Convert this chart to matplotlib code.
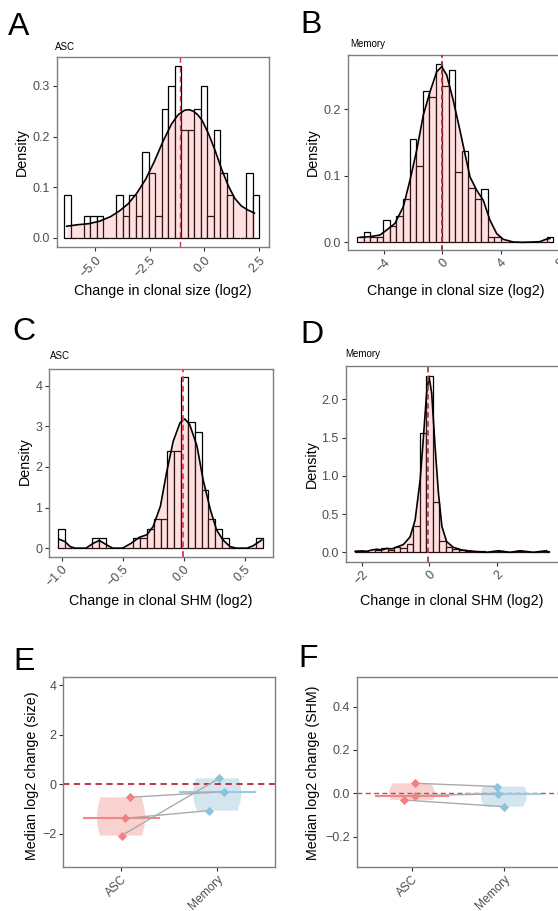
import numpy as np
import matplotlib
matplotlib.use('Agg')
import matplotlib.pyplot as plt

plt.rcParams['font.family'] = ['Liberation Sans', 'DejaVu Sans']

# ------------------------------------------------------------------ data
# Panel A : ASC, change in clonal size
A_bin_start = -6.42
A_bin_width = 0.2983
A_hist = [0.085, 0.0, 0.0, 0.043, 0.043, 0.043, 0.0, 0.0, 0.085, 0.043,
          0.085, 0.043, 0.170, 0.128, 0.043, 0.255, 0.300, 0.340, 0.213, 0.213,
          0.255, 0.300, 0.043, 0.213, 0.128, 0.085, 0.0, 0.0, 0.128, 0.085]
A_dens_x = [-6.31, -5.8, -5.3, -4.8, -4.3, -3.9, -3.5, -3.1, -2.7, -2.3, -1.9, -1.5,
            -1.2, -0.9, -0.7, -0.5, -0.3, -0.1, 0.2, 0.5, 0.8, 1.1, 1.4, 1.7, 2.0, 2.3]
A_dens_y = [0.023, 0.026, 0.028, 0.033, 0.042, 0.053, 0.067, 0.088, 0.115, 0.150, 0.190, 0.225,
            0.243, 0.252, 0.253, 0.250, 0.243, 0.232, 0.205, 0.172, 0.135, 0.103, 0.078, 0.063, 0.055, 0.049]
A_median = -1.10

# Panel B : Memory, change in clonal size
B_bin_start = -5.82
B_bin_width = 0.447
B_hist = [0.008, 0.016, 0.008, 0.008, 0.034, 0.024, 0.040, 0.065, 0.155, 0.115,
          0.227, 0.218, 0.267, 0.235, 0.259, 0.105, 0.137, 0.081, 0.065, 0.080,
          0.008, 0.008, 0.0, 0.0, 0.0, 0.0, 0.0, 0.0, 0.0, 0.008]
B_dens_x = [-5.64, -4.95, -4.27, -3.81, -3.24, -2.67, -2.21, -1.75, -1.30, -0.84, -0.38, -0.04,
            0.30, 0.75, 1.21, 1.55, 1.90, 2.36, 2.81, 3.27, 3.73, 4.18, 4.86, 5.5, 6.2, 6.69, 7.03, 7.38]
B_dens_y = [0.0075, 0.0085, 0.011, 0.0185, 0.0285, 0.0535, 0.0935, 0.1385, 0.191, 0.226, 0.256, 0.2635,
            0.251, 0.213, 0.168, 0.133, 0.098, 0.078, 0.063, 0.033, 0.013, 0.0045, 0.0005, 0.0, 0.0005, 0.001, 0.004, 0.006]
B_median = -0.04

# Panel C : ASC, change in clonal SHM
C_bin_start = -1.028
C_bin_width = 0.056
C_hist = [0.477, 0.0, 0.0, 0.0, 0.0, 0.238, 0.238, 0.0, 0.0, 0.0,
          0.0, 0.238, 0.238, 0.477, 0.71, 0.71, 2.38, 2.38, 4.21, 3.10,
          2.86, 1.43, 0.71, 0.477, 0.238, 0.0, 0.0, 0.0, 0.0, 0.238]
C_dens_x = [-1.02, -0.97, -0.93, -0.89, -0.80, -0.74, -0.69, -0.63, -0.58, -0.50, -0.43, -0.36,
            -0.30, -0.25, -0.19, -0.14, -0.085, -0.03, 0.01, 0.05, 0.11, 0.16, 0.22, 0.27, 0.32,
            0.38, 0.43, 0.52, 0.57, 0.64]
C_dens_y = [0.22, 0.16, 0.04, 0.0, 0.0, 0.12, 0.19, 0.08, 0.0, 0.0, 0.12, 0.27,
            0.33, 0.53, 1.03, 1.85, 2.63, 3.08, 3.18, 3.04, 2.51, 1.68, 0.94, 0.45, 0.21,
            0.04, 0.0, 0.0, 0.06, 0.20]
C_median = -0.003

# Panel D : Memory, change in clonal SHM
D_bin_start = -2.19
D_bin_width = 0.191
D_hist = [0.018, 0.018, 0.0, 0.036, 0.054, 0.036, 0.072, 0.054, 0.11, 0.35,
          1.56, 2.31, 0.66, 0.15, 0.07, 0.04, 0.036, 0.018, 0.0, 0.018,
          0.0, 0.0, 0.018, 0.0, 0.0, 0.018, 0.0, 0.0, 0.0, 0.018]
D_dens_x = [-2.19, -2.0, -1.85, -1.7, -1.55, -1.4, -1.26, -1.1, -0.96, -0.77, -0.57, -0.42,
            -0.27, -0.18, -0.08, -0.01, 0.07, 0.17, 0.27, 0.37, 0.51, 0.71, 0.96, 1.30,
            1.69, 2.04, 2.38, 2.68, 3.07, 3.46]
D_dens_y = [0.013, 0.018, 0.012, 0.03, 0.04, 0.03, 0.05, 0.045, 0.07, 0.10, 0.20, 0.42,
            0.95, 1.47, 2.08, 2.30, 2.08, 1.38, 0.77, 0.34, 0.14, 0.065, 0.03, 0.013,
            0.0, 0.02, 0.0, 0.02, 0.0, 0.02]
D_median = -0.03

# Panels E / F : per-subject medians (3 subjects)
groups = ['ASC', 'Memory']
E_asc = [-0.53, -2.08, -1.38]
E_mem = [-0.30, 0.24, -1.07]
F_asc = [0.046, -0.011, -0.031]
F_mem = [0.031, -0.003, -0.062]

# ------------------------------------------------------------------ layout / style
E_asc_jit = [0.09, 0.006, 0.04]
E_mem_jit = [0.07, 0.02, -0.09]
F_asc_jit = [0.03, 0.03, -0.09]
F_mem_jit = [-0.07, -0.06, 0.0]

W, H = 558, 911
fig = plt.figure(figsize=(W / 100, H / 100), dpi=100)

SPINE = '#7F7F7F'
TICKC = '#333333'
LABC = '#4D4D4D'
PINK_FILL = '#FF6666'


def ax_px(l, t, r, b):
    return fig.add_axes([l / W, 1 - b / H, (r - l) / W, (b - t) / H])


def style(ax, xsize=9, xpad=2):
    for s in ax.spines.values():
        s.set_color(SPINE)
        s.set_linewidth(1.0)
    ax.tick_params(length=3, width=0.8, color=TICKC, labelsize=9,
                   labelcolor=LABC, pad=2)
    ax.tick_params(axis='x', labelsize=xsize, pad=xpad)


def ylab(ax, txt, xpx, ypx):
    ax.set_ylabel(txt, fontsize=10.3, va='center', ha='center')
    ax.yaxis.set_label_coords(xpx / W, 1 - ypx / H, transform=fig.transFigure)


def xlab(ax, txt, xpx, ypx):
    ax.set_xlabel(txt, fontsize=10.3, va='center', ha='center')
    ax.xaxis.set_label_coords(xpx / W, 1 - ypx / H, transform=fig.transFigure)


def xticks(ax, ticks, labels):
    ax.set_xticks(ticks)
    ax.set_xticklabels(labels, rotation=45, ha='right', va='top',
                       rotation_mode='anchor')


def hist_panel(ax, start, width, heights, dx, dy, med, medcol, medlw, dash):
    edges = start + width * np.arange(len(heights))
    ax.bar(edges, heights, width=width, align='edge', color='white',
           edgecolor='black', linewidth=0.9, zorder=1)
    ax.fill_between(dx, 0, dy, color=PINK_FILL, alpha=0.2, linewidth=0, zorder=2)
    ax.plot(dx, dy, color='black', lw=1.2, zorder=3, solid_joinstyle='round')
    ax.axvline(med, color=medcol, lw=medlw, ls=dash, zorder=4)


# Panel A
axA = ax_px(57, 57, 269, 247)
hist_panel(axA, A_bin_start, A_bin_width, A_hist, A_dens_x, A_dens_y,
           A_median, '#C0394B', 1.0, (0, (4, 3)))
axA.set_xlim(-6.76, 2.97)
axA.set_ylim(-0.018, 0.357)
xticks(axA, [-5.0, -2.5, 0.0, 2.5], ['\u22125.0', '\u22122.5', '0.0', '2.5'])
axA.set_yticks([0.0, 0.1, 0.2, 0.3])
axA.set_yticklabels(['0.0', '0.1', '0.2', '0.3'])
style(axA)
ylab(axA, 'Density', 21.7, 152)
xlab(axA, 'Change in clonal size (log2)', 163, 291)

# Panel B
axB = ax_px(348.3, 55, 563, 250)
hist_panel(axB, B_bin_start, B_bin_width, B_hist, B_dens_x, B_dens_y,
           B_median, '#B8293A', 1.4, (0, (2.5, 1.8)))
axB.set_xlim(-6.44, 8.27)
axB.set_ylim(-0.0115, 0.281)
xticks(axB, [-4, 0, 4, 8], ['\u22124', '0', '4', '8'])
axB.set_yticks([0.0, 0.1, 0.2])
axB.set_yticklabels(['0.0', '0.1', '0.2'])
style(axB)
ylab(axB, 'Density', 313.3, 152.5)
xlab(axB, 'Change in clonal size (log2)', 455.5, 291)

# Panel C
axC = ax_px(49.3, 368.5, 272.7, 556.7)
hist_panel(axC, C_bin_start, C_bin_width, C_hist, C_dens_x, C_dens_y,
           C_median, '#E8435A', 1.4, (0, (3, 2)))
axC.set_xlim(-1.10, 0.73)
axC.set_ylim(-0.21, 4.42)
xticks(axC, [-1.0, -0.5, 0.0, 0.5], ['\u22121.0', '\u22120.5', '0.0', '0.5'])
axC.set_yticks([0, 1, 2, 3, 4])
axC.set_yticklabels(['0', '1', '2', '3', '4'])
style(axC)
ylab(axC, 'Density', 25, 461)
xlab(axC, 'Change in clonal SHM (log2)', 161, 601)

# Panel D
axD = ax_px(345.7, 366, 559, 561.7)
hist_panel(axD, D_bin_start, D_bin_width, D_hist, D_dens_x, D_dens_y,
           D_median, '#B0414A', 1.3, (0, (3, 2)))
axD.set_xlim(-2.47, 3.83)
axD.set_ylim(-0.123, 2.435)
xticks(axD, [-2, 0, 2], ['\u22122', '0', '2'])
axD.set_yticks([0.0, 0.5, 1.0, 1.5, 2.0])
axD.set_yticklabels(['0.0', '0.5', '1.0', '1.5', '2.0'])
style(axD)
ylab(axD, 'Density', 311.7, 464)
xlab(axD, 'Change in clonal SHM (log2)', 452, 601)


def pair_panel(ax, asc, mem, ajit, mjit, zero_lw, zero_col):
    cols_fill = ['#EE6969', '#70AFD0']
    cols_pt = ['#F08282', '#8CC3DC']
    cols_med = ['#F28585', '#9CCAE0']
    for i, vals in enumerate([asc, mem]):
        vp = ax.violinplot([vals], positions=[i + 1], widths=0.5,
                           showextrema=False, bw_method=1.6)
        for body in vp['bodies']:
            body.set_facecolor(cols_fill[i])
            body.set_edgecolor('none')
            body.set_alpha(0.3)
            body.set_zorder(1)
    ax.axhline(0, color=zero_col, lw=zero_lw, ls=(0, (3.5, 2.5)), zorder=2)
    for i, vals in enumerate([asc, mem]):
        ax.hlines(np.median(vals), i + 1 - 0.4, i + 1 + 0.4, color=cols_med[i],
                  lw=1.5, zorder=3)
    for a, m, aj, mj in zip(asc, mem, ajit, mjit):
        ax.plot([1 + aj, 2 + mj], [a, m], color='#AAAAAA', lw=1.0, zorder=4)
    ax.scatter(1 + np.array(ajit), asc, marker='D', s=22, color=cols_pt[0],
               zorder=5, linewidths=0)
    ax.scatter(2 + np.array(mjit), mem, marker='D', s=22, color=cols_pt[1],
               zorder=5, linewidths=0)
    ax.set_xlim(0.4, 2.6)
    xticks(ax, [1, 2], groups)


# Panel E
axE = ax_px(63.3, 677.3, 275, 866.7)
pair_panel(axE, E_asc, E_mem, E_asc_jit, E_mem_jit, 1.3, '#B5283A')
axE.set_ylim(-3.34, 4.33)
axE.set_yticks([-2, 0, 2, 4])
axE.set_yticklabels(['\u22122', '0', '2', '4'])
style(axE, xsize=8.6, xpad=1.5)
ylab(axE, 'Median log2 change (size)', 31.7, 776)

# Panel F
axF = ax_px(356.7, 677.3, 559, 866.7)
pair_panel(axF, F_asc, F_mem, F_asc_jit, F_mem_jit, 1.0, '#D0404A')
axF.set_ylim(-0.339, 0.535)
axF.set_yticks([-0.2, 0.0, 0.2, 0.4])
axF.set_yticklabels(['\u22120.2', '0.0', '0.2', '0.4'])
style(axF, xsize=8.6, xpad=1.5)
ylab(axF, 'Median log2 change (SHM)', 313.3, 773)

# Panel titles
for txt, x, y in [('ASC', 55, 50), ('Memory', 350, 46.7), ('ASC', 50, 359.3),
                  ('Memory', 345.7, 356.7)]:
    fig.text(x / W, 1 - y / H, txt, fontsize=7, ha='left', va='baseline')

# Panel letters
for txt, x, y in [('A', 8, 35), ('B', 300, 33), ('C', 12, 340), ('D', 300, 343),
                  ('E', 13, 670), ('F', 298, 667)]:
    fig.text(x / W, 1 - y / H, txt, fontsize=23, ha='left', va='baseline')

fig.savefig('out.png', dpi=100)
